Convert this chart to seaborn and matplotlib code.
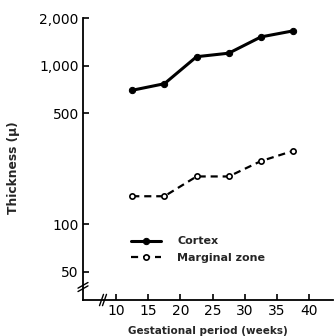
import numpy as np
import pandas as pd
import matplotlib
matplotlib.use("Agg")
import matplotlib.pyplot as plt
import seaborn as sns

# Data
weeks = [12.5, 17.5, 22.5, 27.5, 32.5, 37.5]
cortex = [700, 770, 1140, 1200, 1520, 1660]
marginal = [150, 150, 200, 200, 250, 290]
series_names = ["Cortex", "Marginal zone"]
x_ticks = [10, 15, 20, 25, 30, 35, 40]
y_ticks = [50, 100, 500, 1000, 2000]
y_ticklabels = ["50", "100", "500", "1,000", "2,000"]
x_label = "Gestational period (weeks)"
y_label = "Thickness (\u03bc)"

sns.set_theme(style="ticks")
plt.rcParams['font.family'] = ['DejaVu Sans']

df = pd.DataFrame({
    "week": weeks * 2,
    "thickness": cortex + marginal,
    "series": [series_names[0]] * len(weeks) + [series_names[1]] * len(weeks),
})

fig = plt.figure(figsize=(3.35, 3.36), dpi=100)
ax = fig.add_axes([83/335, 1 - 300/336, 250/335, (300 - 17.7)/336])

sns.lineplot(data=df[df.series == series_names[0]], x="week", y="thickness",
             ax=ax, color="black", linewidth=2.2, marker="o", markersize=4.5,
             markerfacecolor="black", markeredgecolor="black",
             label=series_names[0])
sns.lineplot(data=df[df.series == series_names[1]], x="week", y="thickness",
             ax=ax, color="black", linewidth=1.6, linestyle=(0, (3.2, 2.2)),
             marker="o", markersize=3.8, markerfacecolor="white",
             markeredgecolor="black", markeredgewidth=1.2,
             label=series_names[1])

ax.set_yscale("log")
ax.set_xlim(4.85, 43.7)
ax.set_ylim(33.2, 2010)
ax.set_yticks(y_ticks)
ax.set_yticklabels(y_ticklabels)
ax.yaxis.set_minor_locator(matplotlib.ticker.NullLocator())
ax.set_xticks(x_ticks)
ax.tick_params(axis="both", direction="in", length=4, width=1.2,
               labelsize=10, colors="black", pad=3)
for s in ["top", "right"]:
    ax.spines[s].set_visible(False)
for s in ["left", "bottom"]:
    ax.spines[s].set_linewidth(1.3)
    ax.spines[s].set_color("black")

ax.set_xlabel(x_label, fontsize=7.5, fontweight="bold", labelpad=6)
ax.set_ylabel(y_label, fontsize=8.8, fontweight="bold")
ax.yaxis.set_label_coords(-0.25, 0.47)

# axis break marks
for dy in (-0.006, 0.006):
    ax.plot([-0.02, 0.02], [0.046 + dy - 0.01, 0.046 + dy + 0.01],
            transform=ax.transAxes, color="black", lw=1.0, clip_on=False)
for dx in (-0.006, 0.006):
    ax.plot([0.08 + dx - 0.008, 0.08 + dx + 0.008], [-0.02, 0.02],
            transform=ax.transAxes, color="black", lw=1.0, clip_on=False)

leg = ax.legend(loc="upper left", bbox_to_anchor=(0.19, 0.225), frameon=False,
                fontsize=8, handlelength=2.7, handletextpad=1.5,
                labelspacing=0.55, borderpad=0, borderaxespad=0)
for t in leg.get_texts():
    t.set_fontweight("bold")

fig.savefig("out.png", dpi=100, facecolor="white")
